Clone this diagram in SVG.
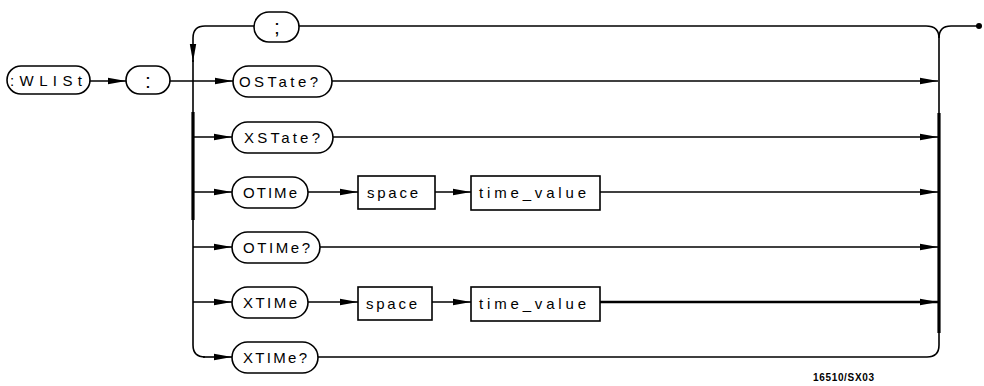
<svg xmlns="http://www.w3.org/2000/svg" width="984" height="386" viewBox="0 0 984 386">
<defs>
<marker id="ah" viewBox="0 0 18 8" refX="18" refY="4" markerWidth="18" markerHeight="8" markerUnits="userSpaceOnUse" orient="auto">
<path d="M0,0.8 L18,4 L0,7.2 z" fill="#000"/>
</marker>
<style>
.n{fill:#fff;stroke:#000;stroke-width:1.6}
.t{font-family:"Liberation Sans",Arial,sans-serif;font-size:15px;fill:#000}
.p{font-family:"Liberation Sans",Arial,sans-serif;font-size:21px;fill:#000}
.c{fill:none;stroke:#000;stroke-width:1.6}
.a{marker-end:url(#ah)}
.th{fill:none;stroke:#000;stroke-width:3.2}
.lab{font-family:"Liberation Sans",Arial,sans-serif;font-size:10px;font-weight:bold;fill:#000}
</style>
</defs>
<rect width="984" height="386" fill="#fff"/>
<g id="connectors">
<path class="c a" d="M90 81 L126 81"/>
<path class="c a" d="M170 81 L233 81"/>
<path class="c" d="M299 26 L926 26 Q939 26 939 38 L939 345 Q939 357 927 357 L318 357"/>
<path class="c" d="M939 38 Q939 26 951 26 L978 26"/>
<circle cx="979" cy="26" r="3" fill="#000"/>
<path class="c a" d="M254 26 L205 26 Q193 26 193 38 L193 62"/>
<path class="c" d="M193 60 L193 345 Q193 357 205 357"/>
<path class="c a" d="M203 357 L232 357"/>
<path class="th" d="M193 112 L193 220"/>
<path class="th" d="M939 113 L939 333"/>
<path class="c a" d="M193 137 L232 137"/>
<path class="c a" d="M193 192 L232 192"/>
<path class="c a" d="M193 247 L232 247"/>
<path class="c a" d="M193 302 L232 302"/>
<path class="c a" d="M332 81 L938 81"/>
<path class="c a" d="M333 137 L938 137"/>
<path class="c a" d="M308 192 L358 192"/>
<path class="c a" d="M435 192 L471 192"/>
<path class="c a" d="M600 192 L938 192"/>
<path class="c a" d="M320 247 L938 247"/>
<path class="c a" d="M308 302 L358 302"/>
<path class="c a" d="M432 302 L471 302"/>
<path class="c a" d="M600 302 L938 302" style="stroke-width:2.6"/>
</g>
<g id="wlist"><rect class="n" x="7" y="66" width="83" height="28" rx="14"/><text class="t" x="10" y="86" textLength="72" lengthAdjust="spacing">:WLISt</text></g>
<g id="colon"><rect class="n" x="126" y="66" width="44" height="28" rx="14"/><text class="p" x="148" y="88" text-anchor="middle">:</text></g>
<g id="semicolon"><rect class="n" x="254" y="12" width="45" height="30" rx="15"/><text class="p" x="277" y="34" text-anchor="middle">;</text></g>
<g id="ostate"><rect class="n" x="233" y="66" width="99" height="31" rx="15.5"/><text class="t" x="239" y="87" textLength="79" lengthAdjust="spacing">OSTate?</text></g>
<g id="xstate"><rect class="n" x="232" y="122" width="101" height="31" rx="15.5"/><text class="t" x="244" y="143" textLength="76" lengthAdjust="spacing">XSTate?</text></g>
<g id="otime"><rect class="n" x="232" y="177" width="76" height="31" rx="15.5"/><text class="t" x="243" y="198" textLength="54" lengthAdjust="spacing">OTIMe</text></g>
<g id="space1"><rect class="n" x="358" y="176" width="77" height="33"/><text class="t" x="367" y="198" textLength="51" lengthAdjust="spacing">space</text></g>
<g id="timevalue1"><rect class="n" x="471" y="176" width="129" height="34"/><text class="t" x="479" y="198" textLength="107" lengthAdjust="spacing">time_value</text></g>
<g id="otimeq"><rect class="n" x="232" y="232" width="88" height="31" rx="15.5"/><text class="t" x="243" y="253" textLength="67" lengthAdjust="spacing">OTIMe?</text></g>
<g id="xtime"><rect class="n" x="232" y="287" width="76" height="31" rx="15.5"/><text class="t" x="243" y="308" textLength="54" lengthAdjust="spacing">XTIMe</text></g>
<g id="space2"><rect class="n" x="358" y="287" width="74" height="33"/><text class="t" x="366" y="309" textLength="51" lengthAdjust="spacing">space</text></g>
<g id="timevalue2"><rect class="n" x="471" y="287" width="129" height="34"/><text class="t" x="479" y="309" textLength="107" lengthAdjust="spacing">time_value</text></g>
<g id="xtimeq"><rect class="n" x="232" y="342" width="86" height="31" rx="15.5"/><text class="t" x="243" y="363" textLength="64" lengthAdjust="spacing">XTIMe?</text></g>
<text class="lab" x="813" y="381" textLength="61" lengthAdjust="spacing">16510/SX03</text>
</svg>
